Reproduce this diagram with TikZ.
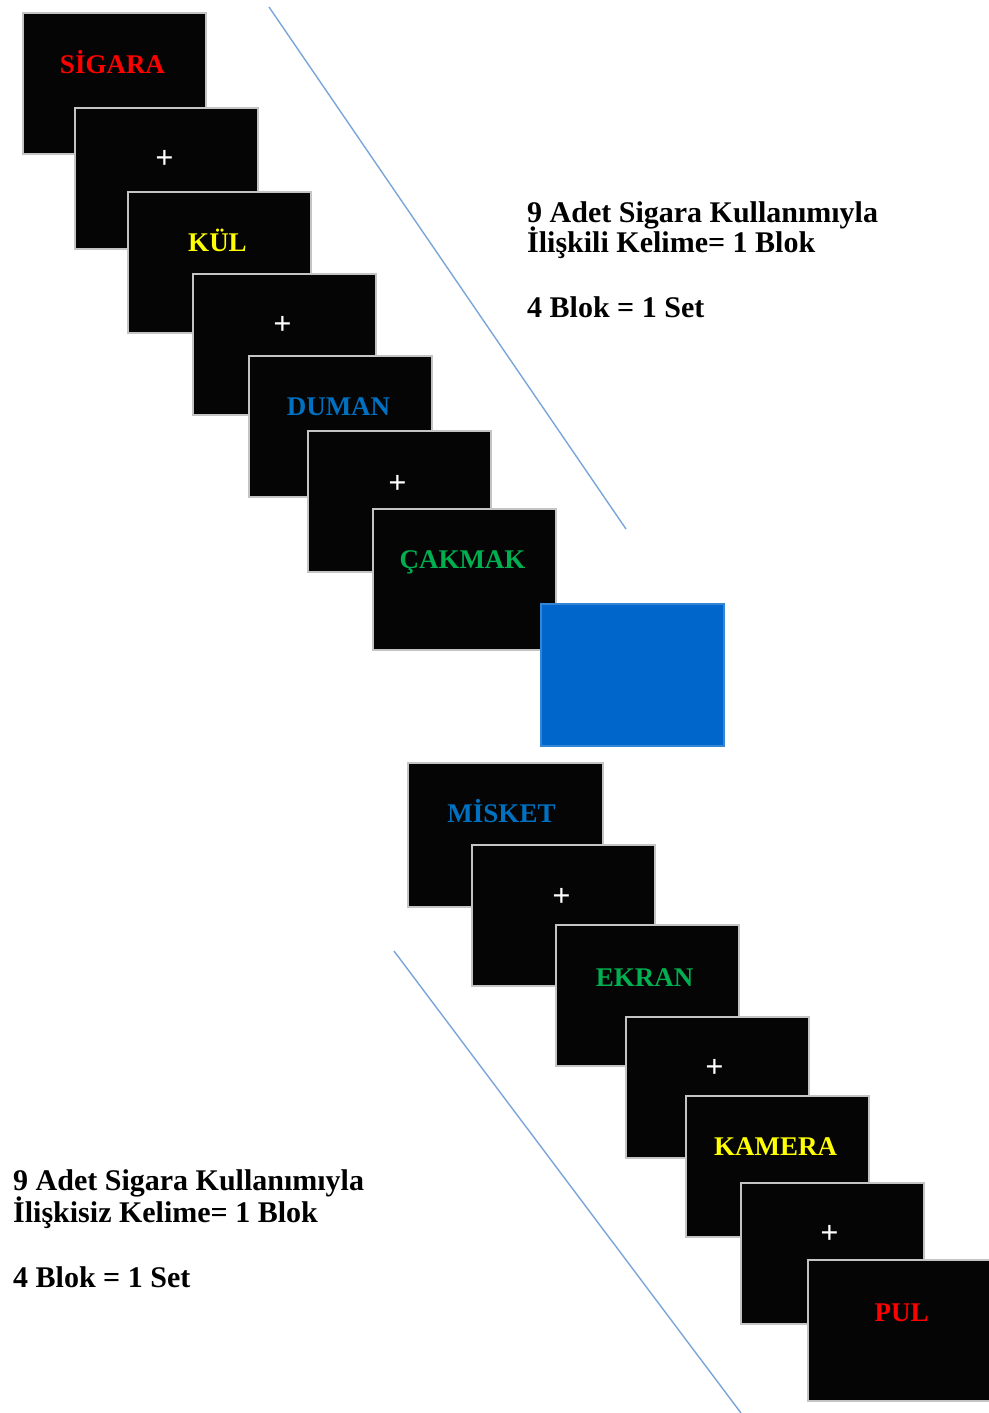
\documentclass[tikz,border=0pt]{standalone}
\usepackage{fontspec}
\setmainfont{Liberation Serif}
\definecolor{scrfill}{HTML}{050505}
\definecolor{scrborder}{HTML}{C4C4C4}
\definecolor{wred}{HTML}{FF0000}
\definecolor{wyellow}{HTML}{FFFF00}
\definecolor{wblue}{HTML}{0070C0}
\definecolor{wgreen}{HTML}{00B050}
\definecolor{boxblue}{HTML}{0066CC}
\definecolor{sepblue}{HTML}{7AA5D8}
\begin{document}
\begin{tikzpicture}[x=1pt,y=-1pt,
  screen/.style={draw=scrborder, line width=1.3pt, fill=scrfill, anchor=north west,
    minimum width=183pt, minimum height=141pt, inner sep=0pt, outer sep=0pt},
  word/.style={font=\bfseries\fontsize{27}{27}\selectfont, inner sep=0pt, anchor=base},
  fixcross/.style={text=white, font=\bfseries\fontsize{32}{32}\selectfont, inner sep=0pt, anchor=center},
  sepline/.style={draw=sepblue, line width=1.4pt},
  info/.style={anchor=base west, font=\bfseries\fontsize{30}{30}\selectfont, inner sep=0pt, text=black}]
\useasboundingbox (0,0) rectangle (988,1413);

% separator lines
\coordinate (l1a) at (269,7);
\coordinate (l1b) at (626,529);
\coordinate (l2a) at (394,951);
\coordinate (l2b) at (741,1413);
\draw[sepline] (l1a) -- (l1b);
\draw[sepline] (l2a) -- (l2b);

% first sequence
\node[screen] (s1) at (23,13) {};
\node[word, text=wred] (w1) at ([xshift=-2pt,yshift=-61pt]s1.north) {SİGARA};
\node[screen] (s2) at (75,108) {};
\node[fixcross] (c2) at ([xshift=-2pt,yshift=-51pt]s2.north) {+};
\node[screen] (s3) at (128,192) {};
\node[word, text=wyellow] (w3) at ([xshift=-2pt,yshift=-59pt]s3.north) {KÜL};
\node[screen] (s4) at (193,274) {};
\node[fixcross] (c4) at ([xshift=-2pt,yshift=-51pt]s4.north) {+};
\node[screen] (s5) at (249,356) {};
\node[word, text=wblue] (w5) at ([xshift=-2pt,yshift=-59pt]s5.north) {DUMAN};
\node[screen] (s6) at (308,431) {};
\node[fixcross] (c6) at ([xshift=-2pt,yshift=-53pt]s6.north) {+};
\node[screen] (s7) at (373,509) {};
\node[word, text=wgreen] (w7) at ([xshift=-2pt,yshift=-59pt]s7.north) {ÇAKMAK};
\node[screen, draw=boxblue!80!white, fill=boxblue, minimum height=142pt] (bb) at (541,604) {};

% second sequence
\node[screen, minimum width=195pt, minimum height=144pt] (s8) at (408,763) {};
\node[word, text=wblue] (w8) at ([xshift=-4pt,yshift=-59pt]s8.north) {MİSKET};
\node[screen] (s9) at (472,845) {};
\node[fixcross] (c9) at ([xshift=-2pt,yshift=-52pt]s9.north) {+};
\node[screen] (s10) at (556,925) {};
\node[word, text=wgreen] (w10) at ([xshift=-3pt,yshift=-61pt]s10.north) {EKRAN};
\node[screen] (s11) at (626,1017) {};
\node[fixcross] (c11) at ([xshift=-3pt,yshift=-51pt]s11.north) {+};
\node[screen] (s12) at (686,1096) {};
\node[word, text=wyellow] (w12) at ([xshift=-2pt,yshift=-59pt]s12.north) {KAMERA};
\node[screen] (s13) at (741,1183) {};
\node[fixcross] (c13) at ([xshift=-3pt,yshift=-51pt]s13.north) {+};
\node[screen] (s14) at (808,1260) {};
\node[word, text=wred] (w14) at ([xshift=2pt,yshift=-61pt]s14.north) {PUL};

% descriptions
\node[info] (t1) at (527,222) {9 Adet Sigara Kullanımıyla};
\node[info] (t2) at (527,252) {İlişkili Kelime= 1 Blok};
\node[info] (t3) at (527,317) {4 Blok = 1 Set};
\node[info] (b1) at (13,1190) {9 Adet Sigara Kullanımıyla};
\node[info] (b2) at (13,1222) {İlişkisiz Kelime= 1 Blok};
\node[info] (b3) at (13,1287) {4 Blok = 1 Set};
\end{tikzpicture}
\end{document}
